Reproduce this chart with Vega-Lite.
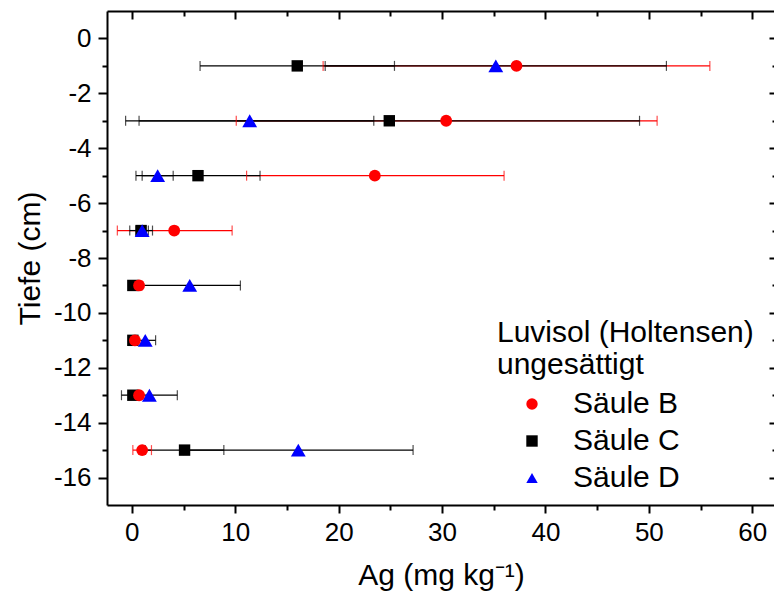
{
  "$schema": "https://vega.github.io/schema/vega-lite/v6.json",
  "width": 668,
  "height": 494,
  "autosize": "none",
  "padding": {"left": 107, "top": 11, "right": 0, "bottom": 89},
  "background": "white",
  "config": {
    "font": "Liberation Sans",
    "view": {"stroke": null},
    "axis": {
      "domainColor": "black",
      "domainWidth": 2,
      "tickColor": "black",
      "tickWidth": 2,
      "grid": false,
      "labelColor": "black",
      "titleColor": "black",
      "labelFont": "Liberation Sans",
      "titleFont": "Liberation Sans",
      "labelFontSize": 26,
      "titleFontSize": 30,
      "titleFontWeight": "normal"
    },
    "legend": {
      "labelFont": "Liberation Sans",
      "titleFont": "Liberation Sans"
    }
  },
  "data": {
    "values": [
      {"series": "Säule B", "depth": -1, "val": 37.2, "lo": 18.5, "hi": 55.9},
      {"series": "Säule B", "depth": -3, "val": 30.4, "lo": 10.1, "hi": 50.8},
      {"series": "Säule B", "depth": -5, "val": 23.5, "lo": 11.1, "hi": 36.0},
      {"series": "Säule B", "depth": -7, "val": 4.1, "lo": -1.4, "hi": 9.7},
      {"series": "Säule B", "depth": -9, "val": 0.7, "lo": 0.4, "hi": 1.0},
      {"series": "Säule B", "depth": -11, "val": 0.3, "lo": 0.1, "hi": 0.5},
      {"series": "Säule B", "depth": -13, "val": 0.7, "lo": 0.5, "hi": 0.9},
      {"series": "Säule B", "depth": -15, "val": 1.0, "lo": 0.1, "hi": 1.9},
      {"series": "Säule C", "depth": -1, "val": 16.0, "lo": 6.6, "hi": 25.4},
      {"series": "Säule C", "depth": -3, "val": 24.9, "lo": 0.7, "hi": 49.1},
      {"series": "Säule C", "depth": -5, "val": 6.4, "lo": 0.4, "hi": 12.4},
      {"series": "Säule C", "depth": -7, "val": 0.9, "lo": -0.2, "hi": 2.0},
      {"series": "Säule C", "depth": -9, "val": 0.1, "lo": 0.0, "hi": 0.2},
      {"series": "Säule C", "depth": -11, "val": 0.1, "lo": 0.0, "hi": 0.2},
      {"series": "Säule C", "depth": -13, "val": 0.1, "lo": 0.0, "hi": 0.2},
      {"series": "Säule C", "depth": -15, "val": 5.1, "lo": 1.3, "hi": 8.9},
      {"series": "Säule D", "depth": -1, "val": 35.2, "lo": 18.7, "hi": 51.7},
      {"series": "Säule D", "depth": -3, "val": 11.4, "lo": -0.6, "hi": 23.4},
      {"series": "Säule D", "depth": -5, "val": 2.5, "lo": 1.0, "hi": 4.0},
      {"series": "Säule D", "depth": -7, "val": 1.0, "lo": 0.4, "hi": 1.6},
      {"series": "Säule D", "depth": -9, "val": 5.6, "lo": 0.7, "hi": 10.5},
      {"series": "Säule D", "depth": -11, "val": 1.3, "lo": 0.4, "hi": 2.3},
      {"series": "Säule D", "depth": -13, "val": 1.7, "lo": -1.0, "hi": 4.4},
      {"series": "Säule D", "depth": -15, "val": 16.1, "lo": 5.0, "hi": 27.2}
    ]
  },
  "resolve": {"axis": {"x": "independent", "y": "independent"}},
  "layer": [
    {
      "mark": {"type": "rule", "strokeWidth": 1.2},
      "encoding": {
        "y": {
          "field": "depth", "type": "quantitative",
          "scale": {"domain": [-17, 1], "nice": false, "zero": false},
          "axis": {
            "orient": "left",
            "title": "Tiefe (cm)",
            "values": [-16, -15, -14, -13, -12, -11, -10, -9, -8, -7, -6, -5, -4, -3, -2, -1, 0],
            "tickSize": {"condition": {"test": "datum.value % 2 == 0", "value": 9}, "value": 5},
            "labelExpr": "datum.value % 2 == 0 ? toString(datum.value) : ''",
            "labelPadding": 7,
            "titlePadding": 8
          }
        },
        "x": {
          "field": "lo", "type": "quantitative",
          "scale": {"domain": [-2.4, 62.2], "nice": false, "zero": false},
          "axis": {
            "orient": "bottom",
            "title": "Ag (mg kg⁻¹)",
            "values": [0, 5, 10, 15, 20, 25, 30, 35, 40, 45, 50, 55, 60],
            "tickSize": {"condition": {"test": "datum.value % 10 == 0", "value": 8}, "value": 5},
            "labelExpr": "datum.value % 10 == 0 ? toString(datum.value) : ''",
            "labelPadding": 6,
            "titlePadding": 15
          }
        },
        "x2": {"field": "hi"},
        "color": {"condition": {"test": "datum.series == 'Säule B'", "value": "#ff0000"}, "value": "black"}
      }
    },
    {
      "mark": {"type": "tick", "orient": "vertical", "size": 10, "thickness": 1.2},
      "encoding": {
        "y": {"field": "depth", "type": "quantitative", "axis": null},
        "x": {"field": "lo", "type": "quantitative", "axis": null},
        "color": {"condition": {"test": "datum.series == 'Säule B'", "value": "#ff0000"}, "value": "black"}
      }
    },
    {
      "mark": {"type": "tick", "orient": "vertical", "size": 10, "thickness": 1.2},
      "encoding": {
        "y": {"field": "depth", "type": "quantitative", "axis": null},
        "x": {"field": "hi", "type": "quantitative", "axis": null},
        "color": {"condition": {"test": "datum.series == 'Säule B'", "value": "#ff0000"}, "value": "black"}
      }
    },
    {
      "transform": [{"filter": "datum.series == 'Säule C'"}],
      "mark": {"type": "point", "filled": true, "opacity": 1, "size": 130},
      "encoding": {
        "y": {"field": "depth", "type": "quantitative", "axis": null},
        "x": {"field": "val", "type": "quantitative", "axis": null},
        "color": {
          "field": "series", "type": "nominal",
          "scale": {"domain": ["Säule B", "Säule C", "Säule D"], "range": ["#ff0000", "#000000", "#0000ff"]},
          "legend": {
            "title": ["Luvisol (Holtensen)", "ungesättigt"],
            "orient": "none",
            "legendX": 390,
            "legendY": 307,
            "padding": 0,
            "titleFontSize": 30,
            "titleFontWeight": "normal",
            "titleColor": "black",
            "titleLineHeight": 32,
            "titleLimit": 500,
            "titlePadding": 9,
            "labelFontSize": 30,
            "labelColor": "black",
            "labelLimit": 300,
            "symbolSize": 130,
            "symbolOffset": 20,
            "labelOffset": 26,
            "rowPadding": 7,
            "symbolStrokeWidth": 0
          }
        },
        "shape": {
          "field": "series", "type": "nominal",
          "scale": {"domain": ["Säule B", "Säule C", "Säule D"], "range": ["circle", "square", "triangle-up"]}
        }
      }
    },
    {
      "transform": [{"filter": "datum.series == 'Säule D'"}],
      "mark": {"type": "point", "filled": true, "opacity": 1, "size": 220},
      "encoding": {
        "y": {"field": "depth", "type": "quantitative", "axis": null},
        "x": {"field": "val", "type": "quantitative", "axis": null},
        "color": {"field": "series", "type": "nominal"},
        "shape": {"field": "series", "type": "nominal"}
      }
    },
    {
      "transform": [{"filter": "datum.series == 'Säule B'"}],
      "mark": {"type": "point", "filled": true, "opacity": 1, "size": 140},
      "encoding": {
        "y": {"field": "depth", "type": "quantitative", "axis": null},
        "x": {"field": "val", "type": "quantitative", "axis": null},
        "color": {"field": "series", "type": "nominal"},
        "shape": {"field": "series", "type": "nominal"}
      }
    },
    {
      "mark": {"type": "point", "opacity": 0},
      "encoding": {
        "y": {
          "field": "depth", "type": "quantitative",
          "axis": {
            "orient": "right",
            "title": null,
            "labels": false,
            "values": [-16, -15, -14, -13, -12, -11, -10, -9, -8, -7, -6, -5, -4, -3, -2, -1, 0],
            "tickSize": {"condition": {"test": "datum.value % 2 == 0", "value": -6}, "value": -3}
          }
        },
        "x": {
          "field": "val", "type": "quantitative",
          "axis": {
            "orient": "top",
            "title": null,
            "labels": false,
            "values": [0, 5, 10, 15, 20, 25, 30, 35, 40, 45, 50, 55, 60],
            "tickSize": {"condition": {"test": "datum.value % 10 == 0", "value": -8}, "value": -5}
          }
        }
      }
    }
  ]
}
